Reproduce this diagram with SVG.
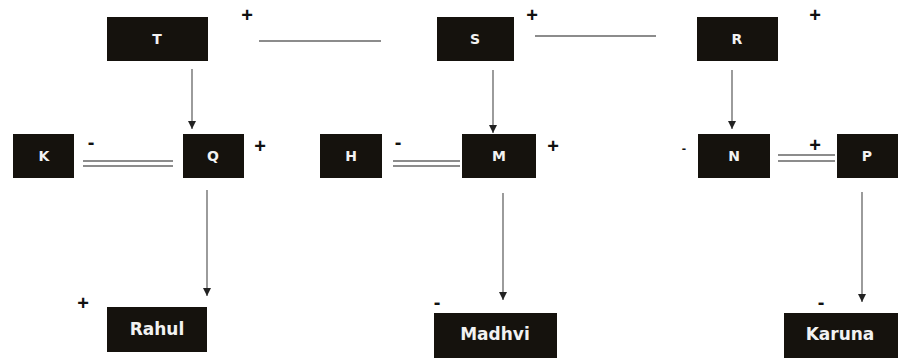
<svg xmlns="http://www.w3.org/2000/svg" width="898" height="358" viewBox="0 0 898 358">
<style>
.box{fill:#15120d}
.lbl{fill:#f2f2f2;font-family:"DejaVu Sans",sans-serif;font-weight:bold;font-size:14px;text-anchor:middle}
.name{fill:#f2f2f2;font-family:"DejaVu Sans",sans-serif;font-weight:bold;font-size:17px;text-anchor:middle}
.sign{fill:#111;font-family:"Liberation Sans",sans-serif;font-weight:bold;font-size:20px;text-anchor:middle}
.ln{stroke:#666;stroke-width:1.3;fill:none}
</style>
<defs>
<marker id="ah" viewBox="0 0 10 10" refX="10" refY="5" markerWidth="8" markerHeight="8" markerUnits="userSpaceOnUse" orient="auto">
<path d="M0,0 L10,5 L0,10 z" fill="#222"/>
</marker>
</defs>
<rect width="898" height="358" fill="#fff"/>
<g id="connectors">
<line class="ln" x1="259" y1="41" x2="381" y2="41"/>
<line class="ln" x1="535" y1="36" x2="656" y2="36"/>
<line class="ln" x1="192" y1="69" x2="192" y2="129" marker-end="url(#ah)"/>
<line class="ln" x1="493" y1="70" x2="493" y2="133" marker-end="url(#ah)"/>
<line class="ln" x1="732" y1="70" x2="732" y2="129" marker-end="url(#ah)"/>
<line class="ln" x1="83" y1="161" x2="173" y2="161"/>
<line class="ln" x1="83" y1="166" x2="173" y2="166"/>
<line class="ln" x1="393" y1="161" x2="460" y2="161"/>
<line class="ln" x1="393" y1="166" x2="460" y2="166"/>
<line class="ln" x1="778" y1="155" x2="835" y2="155"/>
<line class="ln" x1="778" y1="161" x2="835" y2="161"/>
<line class="ln" x1="207" y1="190" x2="207" y2="296" marker-end="url(#ah)"/>
<line class="ln" x1="503" y1="193" x2="503" y2="300" marker-end="url(#ah)"/>
<line class="ln" x1="862" y1="192" x2="862" y2="302" marker-end="url(#ah)"/>
</g>
<g id="T"><rect class="box" x="107" y="17" width="101" height="44"/><text class="lbl" x="157" y="44">T</text></g>
<g id="S"><rect class="box" x="437" y="17" width="77" height="44"/><text class="lbl" x="475" y="44">S</text></g>
<g id="R"><rect class="box" x="697" y="17" width="81" height="44"/><text class="lbl" x="737" y="44">R</text></g>
<g id="K"><rect class="box" x="13" y="134" width="61" height="44"/><text class="lbl" x="44" y="161">K</text></g>
<g id="Q"><rect class="box" x="183" y="134" width="61" height="44"/><text class="lbl" x="213" y="161">Q</text></g>
<g id="H"><rect class="box" x="320" y="134" width="62" height="44"/><text class="lbl" x="351" y="161">H</text></g>
<g id="M"><rect class="box" x="462" y="134" width="74" height="44"/><text class="lbl" x="499" y="161">M</text></g>
<g id="N"><rect class="box" x="698" y="134" width="72" height="44"/><text class="lbl" x="734" y="161">N</text></g>
<g id="P"><rect class="box" x="837" y="134" width="61" height="44"/><text class="lbl" x="867" y="161">P</text></g>
<g id="Rahul"><rect class="box" x="107" y="307" width="100" height="45"/><text class="name" x="157" y="335">Rahul</text></g>
<g id="Madhvi"><rect class="box" x="434" y="313" width="123" height="45"/><text class="name" x="495" y="340">Madhvi</text></g>
<g id="Karuna"><rect class="box" x="784" y="313" width="114" height="45"/><text class="name" x="840" y="340">Karuna</text></g>
<g id="signs">
<text class="sign" x="247" y="22">+</text>
<text class="sign" x="532" y="22">+</text>
<text class="sign" x="815" y="22">+</text>
<text class="sign" x="91" y="149">-</text>
<text class="sign" x="260" y="153">+</text>
<text class="sign" x="398" y="149">-</text>
<text class="sign" x="553" y="153">+</text>
<text class="sign" x="684" y="153" style="font-size:13px">-</text>
<text class="sign" x="815" y="152">+</text>
<text class="sign" x="83" y="310">+</text>
<text class="sign" x="437" y="309">-</text>
<text class="sign" x="821" y="309">-</text>
</g>
</svg>
